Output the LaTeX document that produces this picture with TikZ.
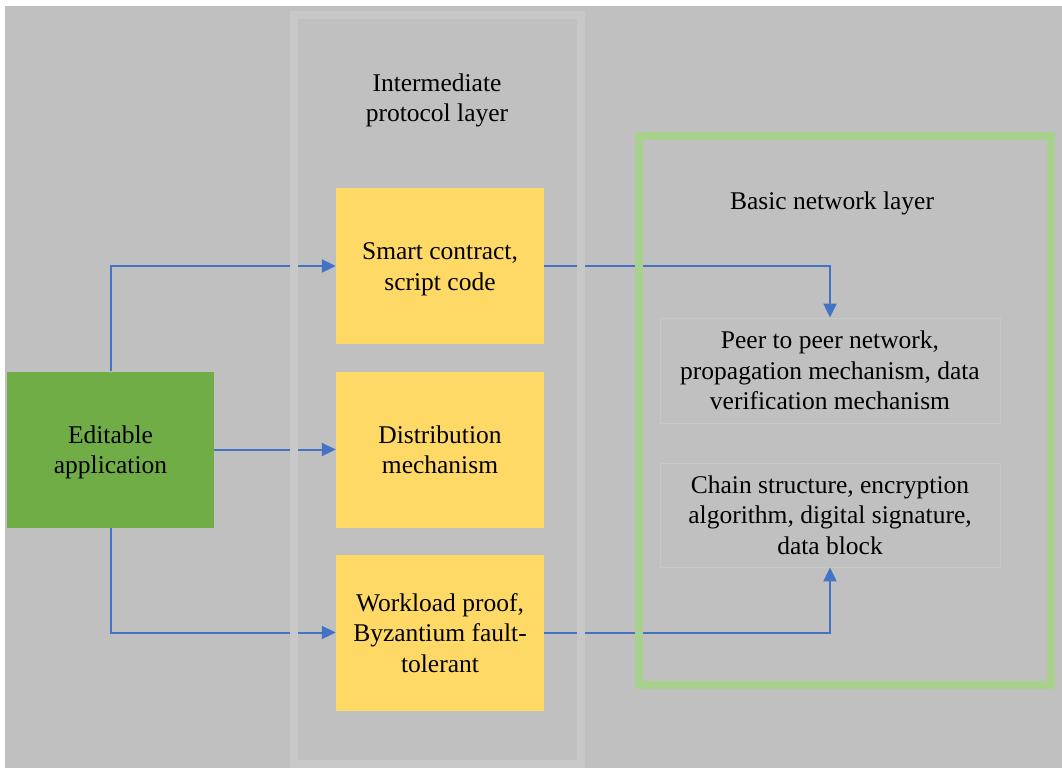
\documentclass[tikz,border=0pt]{standalone}
\usepackage{fontspec}
\setmainfont{Liberation Serif}
\usetikzlibrary{arrows.meta}
\definecolor{bg}{HTML}{C0C0C0}
\definecolor{framegray}{HTML}{C8C8C8}
\definecolor{boxline}{HTML}{C8C8C8}
\definecolor{yel}{HTML}{FFD966}
\definecolor{grn}{HTML}{70AD47}
\definecolor{lgrn}{HTML}{A9D18E}
\definecolor{arr}{HTML}{4472C4}
\newcommand\lowtext[1]{\raisebox{-3pt}[\height][\depth]{\begin{tabular}{@{}c@{}}#1\end{tabular}}}
\begin{document}
\begin{tikzpicture}[x=1pt,y=-1pt,
  txt/.style={font=\fontsize{25.5}{30.5}\selectfont, align=center, text=black, inner sep=0pt},
  ybox/.style={txt, minimum width=208pt, minimum height=156pt, fill=yel},
  gbox/.style={txt, minimum width=207pt, minimum height=156pt, fill=grn},
  nbox/.style={txt, minimum width=340pt, fill=bg, draw=boxline, line width=0.8pt},
  conn/.style={draw=arr, line width=2pt, -{Triangle[length=14pt,width=13pt]}},
  layerframe/.style={draw=#1, line width=8pt, inner sep=0pt, fill=none}]
\useasboundingbox (0,0) rectangle (1062,768);
\fill[bg] (5,6) rectangle (1062,768);
% nodes
\node[gbox] (app) at (110.5,449.5) {\lowtext{Editable\\application}};
\node[ybox] (sc) at (440,266) {\lowtext{Smart contract,\\script code}};
\node[ybox] (dm) at (440,449.5) {\lowtext{Distribution\\mechanism}};
\node[ybox] (wp) at (440,632.5) {\lowtext{Workload proof,\\Byzantium fault-\\tolerant}};
\node[nbox, minimum height=105pt] (peer) at (830,370.5) {Peer to peer network,\\propagation mechanism, data\\verification mechanism};
\node[nbox, minimum height=104pt] (chain) at (830,515) {Chain structure, encryption\\algorithm, digital signature,\\data block};
\node[txt] (ipl) at (437,100.5) {Intermediate\\protocol layer};
\node[txt] (bnl) at (832,203.5) {Basic network layer};
% connectors
\draw[conn] (app.north) |- (sc.west);
\draw[conn] (app.east) -- (dm.west);
\draw[conn] (app.south) |- (wp.west);
\draw[conn] (sc.east) -| (peer.north);
\draw[conn] (wp.east) -| (chain.south);
% layer frames on top
\node[layerframe=framegray, minimum width=287pt, minimum height=749pt] (midlayer) at (437.5,389.5) {};
\node[layerframe=lgrn, minimum width=412pt, minimum height=549pt] (netlayer) at (845,410.5) {};
\end{tikzpicture}
\end{document}
